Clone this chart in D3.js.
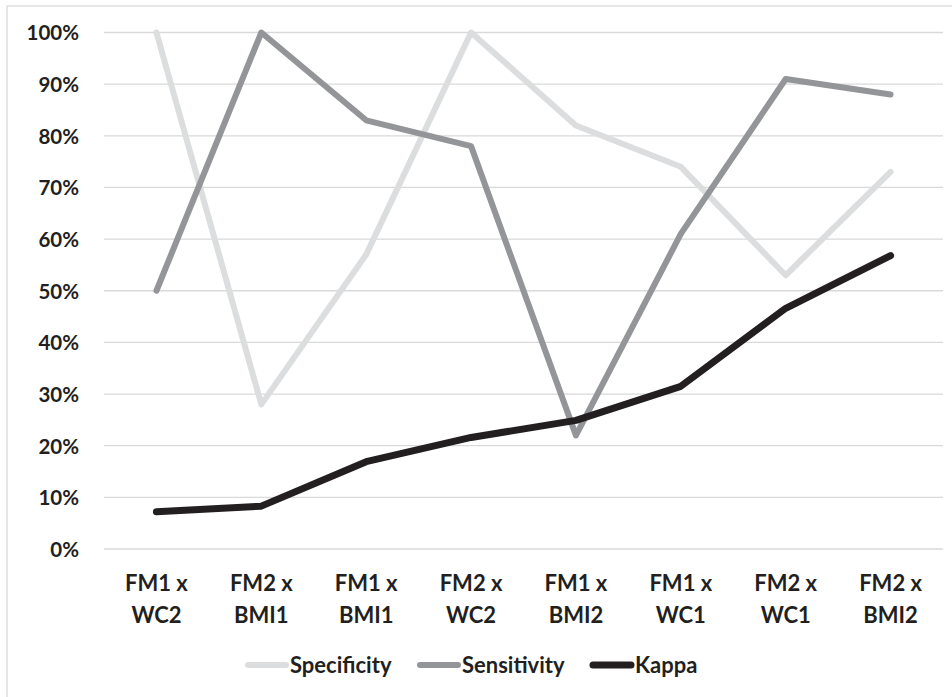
<!DOCTYPE html>
<html>
<head>
<meta charset="utf-8">
<script src="https://cdn.jsdelivr.net/npm/d3@7"></script>
<style>
  body { margin: 0; background: #fff; }
  svg text { font-family: Lato, "Open Sans", sans-serif; font-weight: bold; fill: #231f20; }
</style>
</head>
<body>
<div id="chart"></div>
<script>
// Catégories (deux lignes par étiquette)
const categories = ['FM1 x WC2', 'FM2 x BMI1', 'FM1 x BMI1', 'FM2 x WC2', 'FM1 x BMI2', 'FM1 x WC1', 'FM2 x WC1', 'FM2 x BMI2'];
const specificity = [100, 28, 57, 100, 82, 74, 53, 73];
const sensitivity = [50, 100, 83, 78, 22, 61, 91, 88];
const kappa = [7.2, 8.3, 16.9, 21.6, 24.9, 31.5, 46.6, 56.8];
const yTicks = [0, 10, 20, 30, 40, 50, 60, 70, 80, 90, 100];

const series = [
    { name: 'Specificity', values: specificity, color: '#dcddde', width: 6 },
    { name: 'Sensitivity', values: sensitivity, color: '#939598', width: 6 },
    { name: 'Kappa', values: kappa, color: '#231f20', width: 7 }
];

const W = 952, H = 697;
const margin = { top: 32.5, right: 9, bottom: 148, left: 104 };
const width = W - margin.left - margin.right;
const height = H - margin.top - margin.bottom;

const svg = d3.select('#chart')
    .append('svg')
    .attr('width', W)
    .attr('height', H);

// Cadre du graphique
svg.append('rect')
    .attr('x', 7).attr('y', 6)
    .attr('width', W + 10).attr('height', H + 10)
    .attr('fill', 'none')
    .attr('stroke', '#d9d9d9')
    .attr('stroke-width', 1.3);

const g = svg.append('g')
    .attr('transform', `translate(${margin.left},${margin.top})`);

// Échelles
const x = d3.scaleBand()
    .domain(categories)
    .range([0, width]);

const y = d3.scaleLinear()
    .domain([0, 100])
    .range([height, 0]);

// Grille
g.selectAll('.grid')
    .data(yTicks)
    .enter()
    .append('line')
    .attr('x1', 0).attr('x2', width)
    .attr('y1', d => y(d)).attr('y2', d => y(d))
    .attr('stroke', '#d9d9d9')
    .attr('stroke-width', 1.3);

// Axe Y
const yAxis = g.append('g')
    .call(d3.axisLeft(y).tickValues(yTicks).tickFormat(d => d + '%').tickSize(0).tickPadding(25));
yAxis.select('.domain').remove();
yAxis.attr('font-family', null);
yAxis.selectAll('text')
    .attr('font-size', 20.5)
    .attr('dy', '0.36em');

// Axe X
const xAxis = g.append('g')
    .attr('transform', `translate(0,${height})`)
    .call(d3.axisBottom(x).tickSize(0).tickFormat(''));
xAxis.select('.domain').remove();
xAxis.selectAll('.tick').each(function(d) {
    const parts = d.split(' x ');
    const t = d3.select(this).append('text')
        .attr('text-anchor', 'middle')
        .attr('font-size', 22);
    t.append('tspan').attr('x', 0).attr('y', 42).text(parts[0] + ' x');
    t.append('tspan').attr('x', 0).attr('y', 74).text(parts[1]);
});

// Lignes
const line = d3.line()
    .x((d, i) => x(categories[i]) + x.bandwidth() / 2)
    .y(d => y(d));

g.selectAll('.serie')
    .data(series)
    .enter()
    .append('path')
    .attr('d', d => line(d.values))
    .attr('fill', 'none')
    .attr('stroke', d => d.color)
    .attr('stroke-width', d => d.width)
    .attr('stroke-linecap', 'round')
    .attr('stroke-linejoin', 'round');

// Légende
const legendX = [245, 417, 590];
const legend = svg.append('g').attr('transform', 'translate(0,665)');
series.forEach((s, i) => {
    legend.append('line')
        .attr('x1', legendX[i] + 3).attr('x2', legendX[i] + 41)
        .attr('stroke', s.color)
        .attr('stroke-width', s.width)
        .attr('stroke-linecap', 'round');
    legend.append('text')
        .attr('x', legendX[i] + 45)
        .attr('dy', '0.36em')
        .attr('font-size', 22)
        .text(s.name);
});
</script>
</body>
</html>
